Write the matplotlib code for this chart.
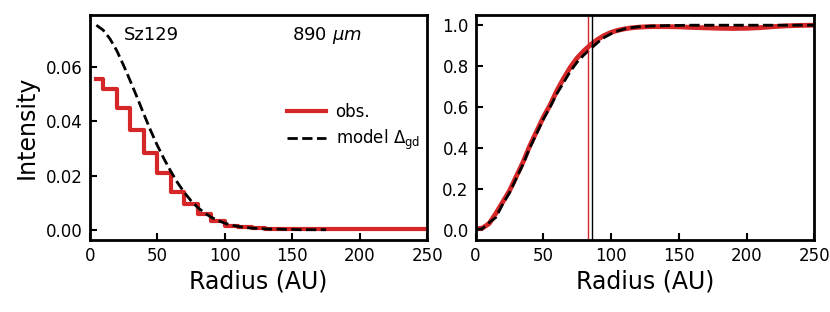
import matplotlib
matplotlib.use("Agg")
import matplotlib.pyplot as plt

# ---- data ----
obs_r = [5, 15, 25, 35, 45, 55, 65, 75, 85, 95, 105, 115, 125, 135, 145, 155,
         165, 175, 185, 195, 205, 215, 225, 235, 245, 255]
obs_I = [0.0555, 0.0520, 0.0451, 0.0368, 0.0284, 0.0208, 0.0141, 0.0096, 0.0059,
         0.0031, 0.0015, 0.0009, 0.0005, 0.0003, 0.0002, 0.0001, 0.0001, 0.0001,
         0.0002, 0.0003, 0.0003, 0.0003, 0.0002, 0.0002, 0.0001, 0.0001]

mod_r = [5, 10, 15, 20, 25, 30, 35, 40, 45, 50, 55, 60, 65, 70, 75, 80, 85, 90,
         95, 100, 105, 110, 115, 120, 125, 130, 135, 140, 145, 150, 155, 160,
         165, 170, 175]
mod_I = [0.0755, 0.0737, 0.0705, 0.0662, 0.0608, 0.0550, 0.0490, 0.0428, 0.0368,
         0.0312, 0.0262, 0.0216, 0.0174, 0.0138, 0.0107, 0.0082, 0.0062, 0.0046,
         0.0034, 0.0024, 0.0017, 0.0012, 0.0008, 0.0006, 0.0004, 0.0003, 0.0002,
         0.0002, 0.0001, 0.0001, 0.0000, 0.0000, 0.0000, 0.0000, 0.0000]

cum_r = [0, 5, 10, 15, 20, 25, 30, 35, 40, 45, 50, 55, 60, 65, 70, 75, 80, 85,
         90, 95, 100, 105, 110, 115, 120, 125, 130, 140, 150, 160, 170, 180, 190,
         200, 210, 220, 230, 240, 250]
cum_obs = [0.003, 0.008, 0.030, 0.080, 0.135, 0.190, 0.260, 0.330, 0.410, 0.480,
           0.550, 0.610, 0.680, 0.740, 0.795, 0.840, 0.875, 0.905, 0.930, 0.950,
           0.965, 0.975, 0.982, 0.987, 0.990, 0.992, 0.993, 0.993, 0.992, 0.989,
           0.987, 0.985, 0.984, 0.985, 0.988, 0.993, 0.997, 0.999, 1.000]
cum_mod = [0.000, 0.005, 0.035, 0.060, 0.125, 0.180, 0.250, 0.320, 0.400, 0.470,
           0.540, 0.600, 0.665, 0.720, 0.775, 0.820, 0.855, 0.885, 0.915, 0.940,
           0.958, 0.972, 0.982, 0.988, 0.992, 0.994, 0.996, 0.998, 0.999, 1.000,
           1.000, 1.000, 1.000, 1.000, 1.000, 1.000, 1.000, 1.000, 1.000]

r_obs_line = 83.3
r_mod_line = 86.3

xticks = [0, 50, 100, 150, 200, 250]
yticks_left = [0.00, 0.02, 0.04, 0.06]
yticks_right = [0.0, 0.2, 0.4, 0.6, 0.8, 1.0]

RED = "#d62728"

fig = plt.figure(figsize=(8.3, 3.12), dpi=100)
ax1 = fig.add_axes([0.108, 0.231, 0.407, 0.721])
ax2 = fig.add_axes([0.573, 0.231, 0.408, 0.721])

ax1.plot(obs_r, obs_I, drawstyle="steps-mid", color=RED, lw=3, label="obs.")
ax1.plot(mod_r, mod_I, "--", color="black", lw=2, label=r"model $\Delta_{\rm gd}$")
ax1.set_xlim(0, 250)
ax1.set_yticks(yticks_left)
ax1.set_yticklabels([f"{v:.2f}" for v in yticks_left])
ax1.set_ylabel("Intensity", fontsize=17, labelpad=5)
ax1.text(0.10, 0.91, "Sz129", transform=ax1.transAxes, fontsize=13, va="center")
ax1.text(0.60, 0.91, r"890 $\mu m$", transform=ax1.transAxes, fontsize=13, va="center")
ax1.legend(loc="center left", bbox_to_anchor=(0.585, 0.50), frameon=False,
           fontsize=12, handlelength=2.3, handletextpad=0.6, borderpad=0,
           borderaxespad=0, labelspacing=0.45)

ax2.plot(cum_r, cum_obs, color=RED, lw=3.5)
ax2.plot(cum_r, cum_mod, "--", color="black", lw=2)
ax2.axvline(r_obs_line, color=RED, lw=1)
ax2.axvline(r_mod_line, color="black", lw=1)
ax2.set_xlim(0, 250)
ax2.set_yticks(yticks_right)
ax2.set_yticklabels([f"{v:.1f}" for v in yticks_right])

for ax in (ax1, ax2):
    ax.set_xticks(xticks)
    ax.set_xlabel("Radius (AU)", fontsize=17, labelpad=3)
    ax.tick_params(direction="in", length=5, width=1.5, labelsize=12, pad=5)
    for s in ax.spines.values():
        s.set_linewidth(2)

fig.savefig("out.png", dpi=100)
